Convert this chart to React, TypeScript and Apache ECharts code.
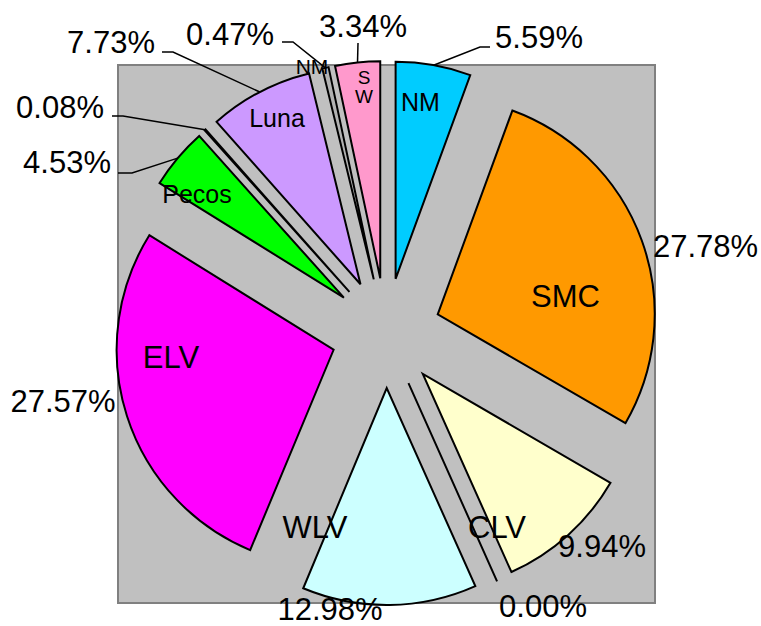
import React, { useEffect, useRef } from 'react';
import * as echarts from 'echarts';

// ---- data ----
const categories = ['NM', 'SMC', 'CLV', '', 'WLV', 'ELV', 'Pecos', '', 'Luna', 'NM', 'SW'];
const shares = [5.59, 27.78, 9.94, 0.0, 12.98, 27.57, 4.53, 0.08, 7.73, 0.47, 3.34];

// ---- styles / layout ----
const sliceColors = ['#00CCFF', '#FF9900', '#FFFFCC', '#FFCC99', '#CCFFFF', '#FF00FF', '#00FF00', '#B2B2B2', '#CC99FF', '#B2B2B2', '#FF99CC'];
const CENTER: [number, number] = [386, 333];
const RADIUS = 217;
const EXPLODE = 55;
const FONT = '"Liberation Sans", Arial, Helvetica, sans-serif';

// percentage label centres
const pctLabelPos: [number, number][] = [
  [539, 37], [705.5, 246], [602, 546], [543, 606], [330, 609.5], [63, 401],
  [67, 162], [60, 107], [111, 42], [230, 34], [363, 26],
];
// leader elbow points (null = no leader line)
const pctLeader: ([number, number][] | null)[] = [
  [[480, 47], [490, 47]], null, null, null, null, null,
  [[132, 173], [118, 173]], [[123, 116], [112, 116]], [[173, 52], [162, 52]],
  [[293, 42], [282, 42]], [[358, 43]],
];
// category label centres and font sizes
const nameLabelPos: ([number, number, number] | null)[] = [
  [420.5, 102, 25], [565.5, 296, 31], [497, 527, 31], null, [315, 527, 31], [171, 357, 31],
  [197, 194, 25], null, [277, 118, 25], [312, 66, 21], [364, 87, 19],
];
const verticalName = [false, false, false, false, false, false, false, false, false, false, true];

function buildGraphic() {
  const total = shares.reduce((a, b) => a + b, 0);
  let acc = 0;
  const mids = shares.map((v) => {
    const a0 = (acc / total) * 360;
    acc += v;
    const a1 = (acc / total) * 360;
    return ((a0 + a1) / 2) * (Math.PI / 180);
  });
  const els: any[] = [
    {
      type: 'rect',
      shape: { x: 118, y: 65, width: 537, height: 538 },
      style: { fill: '#C0C0C0', stroke: '#808080', lineWidth: 2 },
      z: 0,
      silent: true,
    },
  ];
  shares.forEach((v, i) => {
    const m = mids[i];
    const dx = Math.sin(m);
    const dy = -Math.cos(m);
    const arcPt: [number, number] = [CENTER[0] + (EXPLODE + RADIUS) * dx, CENTER[1] + (EXPLODE + RADIUS) * dy];
    const lead = pctLeader[i];
    if (lead) {
      els.push({
        type: 'polyline',
        shape: { points: [arcPt, ...lead] },
        style: { stroke: '#000', lineWidth: 1.5, fill: null },
        z: 8,
        silent: true,
      });
    }
    const p = pctLabelPos[i];
    els.push({
      type: 'text',
      x: p[0],
      y: p[1],
      style: {
        text: v.toFixed(2) + '%',
        fill: '#000',
        fontSize: 31,
        fontFamily: FONT,
        align: 'center',
        verticalAlign: 'middle',
        textAlign: 'center',
        textVerticalAlign: 'middle',
      },
      z: 10,
      silent: true,
    });
    const n = nameLabelPos[i];
    if (n && categories[i]) {
      const txt = verticalName[i] ? categories[i].split('').join('\n') : categories[i];
      els.push({
        type: 'text',
        x: n[0],
        y: n[1],
        style: {
          text: txt,
          fill: '#000',
          fontSize: n[2],
          fontFamily: FONT,
          lineHeight: verticalName[i] ? 19 : undefined,
          align: 'center',
          verticalAlign: 'middle',
          textAlign: 'center',
          textVerticalAlign: 'middle',
        },
        z: 10,
        silent: true,
      });
    }
  });
  return els;
}

export default function App() {
  const ref = useRef<HTMLDivElement>(null);
  useEffect(() => {
    if (!ref.current) return;
    const chart = echarts.init(ref.current, null, { renderer: 'svg' });
    chart.setOption({
      animation: false,
      backgroundColor: '#ffffff',
      graphic: buildGraphic(),
      series: [
        {
          type: 'pie',
          z: 2,
          center: CENTER,
          radius: RADIUS,
          startAngle: 90,
          clockwise: true,
          selectedMode: 'multiple',
          selectedOffset: EXPLODE,
          avoidLabelOverlap: false,
          label: { show: false },
          labelLine: { show: false },
          itemStyle: { borderColor: '#000', borderWidth: 2, borderJoin: 'miter', borderMiterLimit: 10 },
          emphasis: { disabled: true, scale: false },
          select: { itemStyle: { borderColor: '#000', borderWidth: 2 } },
          data: shares.map((v, i) => ({
            name: categories[i],
            value: v,
            selected: true,
            itemStyle: { color: sliceColors[i] },
            select: { itemStyle: { color: sliceColors[i] } },
          })),
        },
      ],
    });
    return () => chart.dispose();
  }, []);
  return <div ref={ref} style={{ position: 'absolute', left: 0, top: 0, width: 761, height: 626 }} />;
}
